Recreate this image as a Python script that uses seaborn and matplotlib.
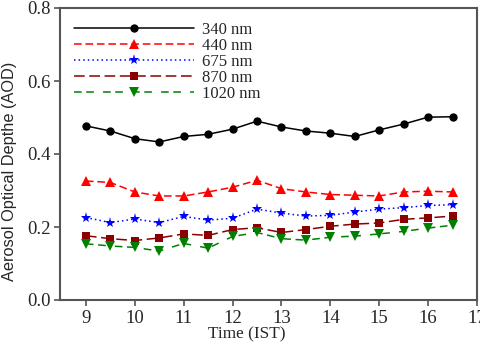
import matplotlib
matplotlib.use("Agg")
import matplotlib.pyplot as plt
import seaborn as sns

time_ist = [9, 9.5, 10, 10.5, 11, 11.5, 12, 12.5, 13, 13.5, 14, 14.5, 15, 15.5, 16, 16.5]

aod_340 = [0.477, 0.463, 0.442, 0.433, 0.448, 0.454, 0.468, 0.490,
           0.474, 0.463, 0.457, 0.448, 0.466, 0.482, 0.501, 0.502]
aod_440 = [0.326, 0.322, 0.296, 0.285, 0.285, 0.296, 0.309, 0.328,
           0.305, 0.296, 0.289, 0.287, 0.285, 0.296, 0.298, 0.296]
aod_675 = [0.226, 0.212, 0.222, 0.212, 0.229, 0.219, 0.224, 0.249,
           0.238, 0.230, 0.232, 0.241, 0.249, 0.253, 0.259, 0.261]
aod_870 = [0.176, 0.168, 0.163, 0.170, 0.181, 0.177, 0.193, 0.198,
           0.185, 0.193, 0.202, 0.208, 0.211, 0.221, 0.225, 0.230]
aod_1020 = [0.154, 0.148, 0.144, 0.134, 0.155, 0.142, 0.174, 0.185,
            0.168, 0.164, 0.172, 0.175, 0.181, 0.188, 0.197, 0.205]

labels = ["340 nm", "440 nm", "675 nm", "870 nm", "1020 nm"]

sns.set_style("ticks")
plt.rcParams["font.family"] = ["Liberation Serif", "DejaVu Serif"]

fig = plt.figure(figsize=(4.81, 3.45), dpi=100)
ax = fig.add_axes([60 / 481, 45 / 345, 417 / 481, 292 / 345])

styles = [
    dict(color="black", marker="o", linestyle="-", markersize=6),
    dict(color="red", marker="^", linestyle=(0, (5, 2.5)), markersize=7),
    dict(color="blue", marker="*", linestyle=(0, (1, 2)), markersize=8),
    dict(color="#8b0000", marker="s", linestyle=(0, (7, 3)), markersize=6),
    dict(color="green", marker="v", linestyle=(0, (5, 3, 5, 6)), markersize=7),
]

series = [aod_340, aod_440, aod_675, aod_870, aod_1020]
for vals, lab, st in zip(series, labels, styles):
    sns.lineplot(x=time_ist, y=vals, ax=ax, label=lab, linewidth=1.1,
                 markeredgewidth=0, **st)

ax.set_xlim(8.47, 17)
ax.set_ylim(0, 0.8)
ax.set_xticks(range(9, 18))
ax.set_yticks([0.0, 0.2, 0.4, 0.6, 0.8])
ax.set_yticklabels(["0.0", "0.2", "0.4", "0.6", "0.8"])
ax.tick_params(labelsize=13.5, direction="out", length=4, width=1.2, color="#555555",
               top=False, right=False, pad=3)
for sp in ax.spines.values():
    sp.set_visible(True)
    sp.set_color("#555555")
    sp.set_linewidth(1.5)

ax.set_xlabel("Time (IST)", fontsize=12.4)
ax.xaxis.set_label_coords(0.448, -0.092)
ax.set_ylabel("Aerosol Optical Depthe (AOD)", fontsize=11.8,
              family=["Liberation Sans", "DejaVu Sans"])
ax.yaxis.set_label_coords(-0.102, 0.44)

ax.legend(loc="upper left", frameon=False, fontsize=12, handlelength=7.2,
          labelspacing=0, borderaxespad=0.45, handletextpad=0.5,
          bbox_to_anchor=(0.0, 1.0))

fig.savefig("out.png", dpi=100)
